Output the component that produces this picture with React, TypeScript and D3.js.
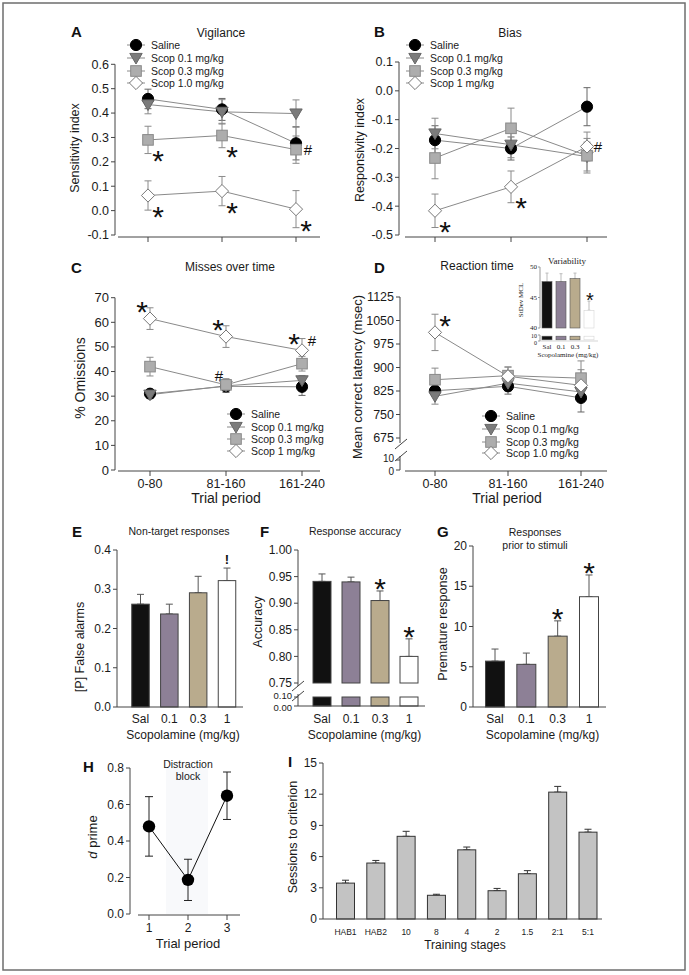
import React from "react"
import * as d3 from "d3"

const FONT = "'Liberation Sans', Arial, Helvetica, sans-serif"
const SERIF = "'Liberation Serif', 'Times New Roman', serif"

// ---------- data ----------
const trialPeriods = ["0-80", "81-160", "161-240"]
const groupsLong = ["Saline", "Scop 0.1 mg/kg", "Scop 0.3 mg/kg", "Scop 1.0 mg/kg"]
const groupsShort = ["Saline", "Scop 0.1 mg/kg", "Scop 0.3 mg/kg", "Scop 1 mg/kg"]
const doses = ["Sal", "0.1", "0.3", "1"]

// A: vigilance, rows = Saline, 0.1, 0.3, 1.0
const vigilanceMean = [
  [0.458, 0.415, 0.276],
  [0.435, 0.405, 0.398],
  [0.29, 0.308, 0.25],
  [0.062, 0.08, 0.006],
]
const vigilanceErr = [
  [0.04, 0.045, 0.068],
  [0.038, 0.05, 0.056],
  [0.056, 0.05, 0.056],
  [0.06, 0.06, 0.076],
]
const vigilanceTicks = [-0.1, 0, 0.1, 0.2, 0.3, 0.4, 0.5, 0.6]
const vigilanceStars = [[2, 0], [2, 1], [3, 0], [3, 1], [3, 2]]
const vigilanceHash = [[2, 2]]

// B: bias
const biasMean = [
  [-0.171, -0.2, -0.055],
  [-0.148, -0.187, -0.228],
  [-0.233, -0.13, -0.225],
  [-0.416, -0.333, -0.193],
]
const biasErr = [
  [0.05, 0.04, 0.066],
  [0.053, 0.045, 0.05],
  [0.072, 0.07, 0.06],
  [0.058, 0.055, 0.05],
]
const biasTicks = [-0.5, -0.4, -0.3, -0.2, -0.1, 0, 0.1]
const biasStars = [[3, 0], [3, 1]]
const biasHash = [[3, 2]]

// C: omissions (%)
const missesMean = [
  [31, 34, 33.8],
  [30.6, 34.2, 36.4],
  [42, 34.6, 43.2],
  [61.5, 54.2, 48.6],
]
const missesErr = [
  [1.5, 2.5, 3.5],
  [1.5, 2.2, 2],
  [3.8, 2.5, 3],
  [4.4, 4.4, 4.8],
]
const missesTicks = [0, 10, 20, 30, 40, 50, 60, 70]
const missesStars = [[3, 0], [3, 1], [3, 2]]
const missesHashHigh = [[3, 2]]
const missesHashLow = [[2, 1]]

// D: reaction time (msec)
const rtMean = [
  [826, 840, 803],
  [808, 850, 822],
  [861, 874, 866],
  [1012, 872, 843],
]
const rtErr = [
  [18, 25, 45],
  [25, 25, 30],
  [37, 27, 55],
  [58, 30, 50],
]
const rtTicks = [675, 750, 825, 900, 975, 1050, 1125]
const rtLowTicks = [0, 10]
const rtStars = [[3, 0]]

// D inset: variability (StDev MCL)
const variabilityMean = [47.6, 47.6, 48.1, 42.9]
const variabilityErr = [1.4, 1.3, 0.9, 1.5]
const variabilityTicks = [40, 45, 50]
const variabilityStars = [3]

// E: false alarms
const falseAlarmMean = [0.262, 0.237, 0.291, 0.322]
const falseAlarmErr = [0.025, 0.025, 0.042, 0.032]
const falseAlarmTicks = [0, 0.1, 0.2, 0.3, 0.4]
const falseAlarmBang = [3]

// F: accuracy
const accuracyMean = [0.941, 0.94, 0.905, 0.8]
const accuracyErr = [0.014, 0.009, 0.018, 0.033]
const accuracyTicks = [0.75, 0.8, 0.85, 0.9, 0.95, 1.0]
const accuracyLowTicks = [0, 0.1]
const accuracyStars = [2, 3]

// G: premature responses
const prematureMean = [5.7, 5.3, 8.8, 13.7]
const prematureErr = [1.5, 1.4, 1.9, 2.7]
const prematureTicks = [0, 5, 10, 15, 20]
const prematureStars = [2, 3]

// H: distraction block d prime
const distractionPeriods = ["1", "2", "3"]
const dPrimeMean = [0.48, 0.187, 0.648]
const dPrimeErr = [0.163, 0.113, 0.13]
const dPrimeTicks = [0, 0.2, 0.4, 0.6, 0.8]

// I: sessions to criterion
const stages = ["HAB1", "HAB2", "10", "8", "4", "2", "1.5", "2:1", "5:1"]
const sessionsMean = [3.45, 5.38, 7.95, 2.28, 6.65, 2.72, 4.35, 12.2, 8.35]
const sessionsErr = [0.28, 0.25, 0.48, 0.1, 0.27, 0.22, 0.3, 0.55, 0.28]
const sessionsTicks = [0, 3, 6, 9, 12, 15]

// ---------- styles ----------
const barColors = ["#111111", "#8d8096", "#b9ab8d", "#ffffff"]
const lineGray = "#8a8a8a"
const axisColor = "#444"
const textColor = "#1a1a1a"

const f1 = (v: number) => v.toFixed(1)
const f2 = (v: number) => v.toFixed(2)
const f0 = (v: number) => String(v)

// ---------- helpers ----------
function Marker({ g, cx, cy }: { g: number; cx: number; cy: number }) {
  if (g === 0) return <circle cx={cx} cy={cy} r={5.6} fill="#000" stroke="#000" />
  if (g === 1)
    return (
      <path
        d={`M${cx - 6.2},${cy - 4.6}L${cx + 6.2},${cy - 4.6}L${cx},${cy + 6}Z`}
        fill="#7b7b7b"
        stroke="#666"
      />
    )
  if (g === 2) return <rect x={cx - 5.3} y={cy - 5.3} width={10.6} height={10.6} fill="#adadad" stroke="#8a8a8a" />
  return (
    <path
      d={`M${cx},${cy - 6.6}L${cx + 6.6},${cy}L${cx},${cy + 6.6}L${cx - 6.6},${cy}Z`}
      fill="#fff"
      stroke="#777"
    />
  )
}

function ErrBar({ x, y1, y2, color, cap = 3.5 }: any) {
  return (
    <g stroke={color} strokeWidth={1}>
      <line x1={x} x2={x} y1={y1} y2={y2} />
      <line x1={x - cap} x2={x + cap} y1={y1} y2={y1} />
      <line x1={x - cap} x2={x + cap} y1={y2} y2={y2} />
    </g>
  )
}

// nudge: small vertical shifts for labels crowded around an axis break
function YAxis({
  x,
  scale,
  ticks,
  fmt,
  fs = 12.5,
  top,
  bottom,
  tick = 4,
  font = FONT,
  color = axisColor,
  gap = 6,
  nudge = {},
}: any) {
  const r = scale.range()
  const y1 = top ?? Math.min(r[0], r[1])
  const y2 = bottom ?? Math.max(r[0], r[1])
  return (
    <g>
      <line x1={x} x2={x} y1={y1} y2={y2} stroke={color} />
      {ticks.map((t: number) => (
        <g key={t}>
          <line x1={x - tick} x2={x} y1={scale(t)} y2={scale(t)} stroke={color} />
          <text
            x={x - gap}
            y={scale(t) + (nudge[t] || 0)}
            dy="0.35em"
            textAnchor="end"
            fontSize={fs}
            fontFamily={font}
            fill={textColor}
          >
            {fmt(t)}
          </text>
        </g>
      ))}
    </g>
  )
}

function Star({ x, y, fs = 30 }: any) {
  return (
    <text x={x} y={y + fs * 0.58} textAnchor="middle" fontSize={fs} fill="#111" fontFamily={FONT}>
      *
    </text>
  )
}

function Hash({ x, y, fs = 15 }: any) {
  return (
    <text x={x} y={y + fs * 0.36} textAnchor="middle" fontSize={fs} fill="#111" fontFamily={FONT}>
      #
    </text>
  )
}

function YLabel({ x, y, text, fs = 13, children }: any) {
  return (
    <text
      transform={`translate(${x},${y}) rotate(-90)`}
      textAnchor="middle"
      dy="0.35em"
      fontSize={fs}
      fill={textColor}
    >
      {children ?? text}
    </text>
  )
}

function PanelLetter({ x, y, t }: any) {
  return (
    <text x={x} y={y} fontSize={15} fontWeight="bold" fill="#111">
      {t}
    </text>
  )
}

function Title({ x, y, t, fs = 12 }: any) {
  return (
    <text x={x} y={y} textAnchor="middle" fontSize={fs} fill={textColor}>
      {t}
    </text>
  )
}

function Legend({ x, ys, names }: any) {
  return (
    <g>
      {names.map((n: string, i: number) => (
        <g key={n}>
          <line x1={x} x2={x + 18} y1={ys[i]} y2={ys[i]} stroke={lineGray} />
          <Marker g={i} cx={x + 9} cy={ys[i]} />
          <text x={x + 24} y={ys[i]} dy="0.35em" fontSize={10.5} fill={textColor}>
            {n}
          </text>
        </g>
      ))}
    </g>
  )
}

function Series({ x, y, means, errs }: any) {
  const line = d3.line<[number, number]>()
  return (
    <g>
      {means.map((row: number[], gi: number) => (
        <path
          key={"l" + gi}
          d={line(row.map((v, i) => [x(i), y(v)] as [number, number])) || ""}
          fill="none"
          stroke={lineGray}
          strokeWidth={1}
        />
      ))}
      {means.map((row: number[], gi: number) =>
        row.map((v, i) => (
          <ErrBar
            key={"e" + gi + i}
            x={x(i)}
            y1={y(v - errs[gi][i])}
            y2={y(v + errs[gi][i])}
            color={gi === 0 ? "#666" : lineGray}
          />
        ))
      )}
      {means.map((row: number[], gi: number) =>
        row.map((v, i) => <Marker key={"m" + gi + i} g={gi} cx={x(i)} cy={y(v)} />)
      )}
    </g>
  )
}

function XAxisLine({ y, x1, x2, ticks, labels, fs = 12.5, labelY }: any) {
  return (
    <g>
      <line x1={x1} x2={x2} y1={y} y2={y} stroke={axisColor} />
      {ticks &&
        ticks.map((t: number, i: number) => <line key={i} x1={t} x2={t} y1={y} y2={y + 5} stroke={axisColor} />)}
      {labels &&
        labels.map((l: string, i: number) => (
          <text key={l} x={ticks[i]} y={labelY} textAnchor="middle" fontSize={fs} fill={textColor}>
            {l}
          </text>
        ))}
    </g>
  )
}

function Bars({ x, y, means, errs, width, base, colors, stroke = "#444", cap = 3.5, errColor = "#555" }: any) {
  return (
    <g>
      {means.map((v: number, i: number) => (
        <g key={i}>
          <ErrBar x={x(i)} y1={y(v)} y2={y(v + errs[i])} color={errColor} cap={cap} />
          <rect
            x={x(i) - width / 2}
            y={y(v)}
            width={width}
            height={base - y(v)}
            fill={colors ? colors[i] : "#c3c3c3"}
            stroke={stroke}
            strokeWidth={1}
          />
        </g>
      ))}
    </g>
  )
}

function Slash({ x, y }: any) {
  return <line x1={x - 6} x2={x + 6} y1={y + 5} y2={y - 5} stroke={axisColor} />
}

// ---------- panels ----------
function PanelA() {
  const x = d3.scalePoint<number>().domain([0, 1, 2]).range([148, 296])
  const y = d3.scaleLinear().domain([-0.1, 0.6]).range([235, 64.3])
  return (
    <g>
      <PanelLetter x={71} y={37} t="A" />
      <Title x={221} y={37} t="Vigilance" />
      <Legend x={127} ys={[45, 58, 71, 83]} names={groupsLong} />
      <YAxis x={115} scale={y} ticks={vigilanceTicks} fmt={f1} />
      <XAxisLine y={237} x1={118} x2={320} ticks={[0, 1, 2].map((i) => x(i))} />
      <YLabel x={75} y={148} text="Sensitivity index" fs={12.5} />
      <Series x={x} y={y} means={vigilanceMean} errs={vigilanceErr} />
      {vigilanceStars.map(([g, i]) => (
        <Star key={g + "-" + i} x={x(i)! + 10} y={y(vigilanceMean[g][i]) + 14} />
      ))}
      {vigilanceHash.map(([g, i]) => (
        <Hash key={g + "-" + i} x={x(i)! + 12} y={y(vigilanceMean[g][i])} />
      ))}
    </g>
  )
}

function PanelB() {
  const x = d3.scalePoint<number>().domain([0, 1, 2]).range([435, 587])
  const y = d3.scaleLinear().domain([-0.5, 0.1]).range([235, 62])
  return (
    <g>
      <PanelLetter x={374} y={37} t="B" />
      <Title x={510} y={37} t="Bias" />
      <Legend x={406} ys={[45, 58, 71, 83]} names={groupsShort} />
      <YAxis x={399} scale={y} ticks={biasTicks} fmt={f1} />
      <XAxisLine y={237} x1={405} x2={607} ticks={[0, 1, 2].map((i) => x(i))} />
      <YLabel x={360} y={150} text="Responsivity index" fs={12.5} />
      <Series x={x} y={y} means={biasMean} errs={biasErr} />
      {biasStars.map(([g, i]) => (
        <Star key={g + "-" + i} x={x(i)! + 10} y={y(biasMean[g][i]) + 14} />
      ))}
      {biasHash.map(([g, i]) => (
        <Hash key={g + "-" + i} x={x(i)! + 11} y={y(biasMean[g][i])} />
      ))}
    </g>
  )
}

function PanelC() {
  const x = d3.scalePoint<number>().domain([0, 1, 2]).range([150, 302])
  const y = d3.scaleLinear().domain([0, 70]).range([470, 297.7])
  return (
    <g>
      <PanelLetter x={71} y={273} t="C" />
      <Title x={230} y={271} t="Misses over time" />
      <YAxis x={115} scale={y} ticks={missesTicks} fmt={f0} fs={13} />
      <XAxisLine
        y={471}
        x1={118}
        x2={320}
        ticks={[0, 1, 2].map((i) => x(i))}
        labels={trialPeriods}
        labelY={488}
      />
      <text x={226} y={503} textAnchor="middle" fontSize={14} fill={textColor}>
        Trial period
      </text>
      <YLabel x={80} y={378} text="% Omissions" fs={14} />
      <Legend x={227} ys={[414, 427, 439, 451]} names={groupsShort} />
      <Series x={x} y={y} means={missesMean} errs={missesErr} />
      {missesStars.map(([g, i]) => (
        <Star key={g + "-" + i} x={x(i)! - 8} y={y(missesMean[g][i]) - 14} />
      ))}
      {missesHashHigh.map(([g, i]) => (
        <Hash key={"h" + g + i} x={x(i)! + 10} y={y(missesMean[g][i]) - 10} />
      ))}
      {missesHashLow.map(([g, i]) => (
        <Hash key={"l" + g + i} x={x(i)! - 7} y={y(missesMean[g][i]) - 9} />
      ))}
    </g>
  )
}

function Inset() {
  const x = d3.scalePoint<number>().domain([0, 1, 2, 3]).range([547, 589])
  const yU = d3.scaleLinear().domain([40, 50]).range([328, 267])
  const yL = d3.scaleLinear().domain([0, 10]).range([341, 335])
  const ax = "#999"
  return (
    <g fontFamily={SERIF}>
      <text x={567} y={264} textAnchor="middle" fontSize={9} fill={textColor}>
        Variability
      </text>
      <YAxis
        x={540}
        scale={yU}
        ticks={variabilityTicks}
        fmt={f0}
        fs={7}
        tick={2}
        gap={3}
        font={SERIF}
        color={ax}
        nudge={{ 40: -0.8 }}
      />
      <YAxis
        x={540}
        scale={yL}
        ticks={rtLowTicks}
        fmt={f0}
        fs={6}
        tick={2}
        gap={3}
        font={SERIF}
        color={ax}
        nudge={{ 10: 0.8, 0: 2.2 }}
      />
      <line x1={540} x2={598} y1={341} y2={341} stroke="#bbb" strokeWidth={0.6} />
      {variabilityMean.map((v, i) => (
        <g key={i}>
          <ErrBar x={x(i)} y1={yU(v)} y2={yU(v + variabilityErr[i])} color="#bbb" cap={1.5} />
          <rect
            x={x(i)! - 5}
            y={yU(v)}
            width={10}
            height={328 - yU(v)}
            fill={barColors[i]}
            stroke={i === 3 ? "#d5d5d5" : "#555"}
            strokeWidth={0.6}
          />
          <rect
            x={x(i)! - 5}
            y={yL(8)}
            width={10}
            height={yL(2) - yL(8)}
            fill={barColors[i]}
            stroke={i === 3 ? "#d5d5d5" : "#555"}
            strokeWidth={0.6}
          />
          <text x={x(i)} y={348.5} textAnchor="middle" fontSize={7} fill={textColor}>
            {doses[i]}
          </text>
        </g>
      ))}
      <text x={568} y={356.5} textAnchor="middle" fontSize={7} fill={textColor}>
        Scopolamine (mg/kg)
      </text>
      <text transform="translate(523,300) rotate(-90)" textAnchor="middle" fontSize={7} fill={textColor}>
        StDev MCL
      </text>
      {variabilityStars.map((i) => (
        <Star key={i} x={x(i)! + 1} y={yU(variabilityMean[i] + variabilityErr[i]) - 6} fs={20} />
      ))}
    </g>
  )
}

function PanelD() {
  const x = d3.scalePoint<number>().domain([0, 1, 2]).range([435, 581])
  const y = d3.scaleLinear().domain([675, 1125]).range([438, 297])
  const yL = d3.scaleLinear().domain([0, 10]).range([470, 460])
  return (
    <g>
      <PanelLetter x={374} y={273} t="D" />
      <Title x={477} y={270} t="Reaction time" />
      <YAxis x={400} scale={y} ticks={rtTicks} fmt={f0} bottom={443} />
      <YAxis x={400} scale={yL} ticks={rtLowTicks} fmt={f0} fs={10} top={456} nudge={{ 10: -1.5, 0: 1.5 }} />
      <Slash x={401} y={444} />
      <Slash x={401} y={456} />
      <XAxisLine
        y={471}
        x1={405}
        x2={607}
        ticks={[0, 1, 2].map((i) => x(i))}
        labels={trialPeriods}
        labelY={488}
      />
      <text x={507} y={503} textAnchor="middle" fontSize={14} fill={textColor}>
        Trial period
      </text>
      <YLabel x={357} y={377} text="Mean correct latency (msec)" fs={13} />
      <Legend x={482} ys={[416, 429, 442, 453]} names={groupsLong} />
      <Series x={x} y={y} means={rtMean} errs={rtErr} />
      {rtStars.map(([g, i]) => (
        <Star key={g + "-" + i} x={x(i)! + 10} y={y(rtMean[g][i]) - 14} />
      ))}
      <Inset />
    </g>
  )
}

function DoseAxis({ x, y, x1, x2 }: any) {
  return (
    <g>
      <line x1={x1} x2={x2} y1={y} y2={y} stroke={axisColor} />
      {doses.map((d, i) => (
        <text key={d} x={x(i)} y={723} textAnchor="middle" fontSize={12} fill={textColor}>
          {d}
        </text>
      ))}
      <text x={(x1 + x2) / 2 + 3} y={739} textAnchor="middle" fontSize={12} fill={textColor}>
        Scopolamine (mg/kg)
      </text>
    </g>
  )
}

function PanelE() {
  const x = d3.scalePoint<number>().domain([0, 1, 2, 3]).range([140.5, 227])
  const y = d3.scaleLinear().domain([0, 0.4]).range([707, 550])
  return (
    <g>
      <PanelLetter x={72} y={537} t="E" />
      <Title x={179} y={535} t="Non-target responses" fs={10.5} />
      <YAxis x={117} scale={y} ticks={falseAlarmTicks} fmt={f1} fs={12} />
      <YLabel x={80} y={647} text="[P] False alarms" fs={12.5} />
      <Bars x={x} y={y} means={falseAlarmMean} errs={falseAlarmErr} width={17.5} base={707} colors={barColors} />
      <DoseAxis x={x} y={707} x1={117} x2={243} />
      {falseAlarmBang.map((i) => (
        <text
          key={i}
          x={x(i)}
          y={y(falseAlarmMean[i] + falseAlarmErr[i]) - 4}
          textAnchor="middle"
          fontSize={13}
          fontWeight="bold"
          fill="#111"
        >
          !
        </text>
      ))}
    </g>
  )
}

function PanelF() {
  const x = d3.scalePoint<number>().domain([0, 1, 2, 3]).range([322, 409])
  const y = d3.scaleLinear().domain([0.75, 1.0]).range([683, 550])
  const yL = d3.scaleLinear().domain([0, 0.1]).range([706, 697])
  return (
    <g>
      <PanelLetter x={260} y={537} t="F" />
      <Title x={355} y={535} t="Response accuracy" fs={10.5} />
      <YAxis x={298} scale={y} ticks={accuracyTicks} fmt={f2} fs={12} bottom={686} />
      <YAxis
        x={298}
        scale={yL}
        ticks={accuracyLowTicks}
        fmt={f2}
        fs={9.5}
        top={694}
        nudge={{ 0.1: -1.5, 0: 1.5 }}
      />
      <Slash x={298} y={686} />
      <Slash x={298} y={696} />
      <YLabel x={258} y={622} text="Accuracy" fs={12.5} />
      <Bars x={x} y={y} means={accuracyMean} errs={accuracyErr} width={18} base={683} colors={barColors} />
      {accuracyMean.map((_, i) => (
        <rect
          key={i}
          x={x(i)! - 9}
          y={yL(0.1)}
          width={18}
          height={yL(0) - yL(0.1)}
          fill={barColors[i]}
          stroke="#444"
        />
      ))}
      <DoseAxis x={x} y={706} x1={298} x2={425} />
      {accuracyStars.map((i) => (
        <Star key={i} x={x(i)} y={y(accuracyMean[i] + accuracyErr[i]) - 9} />
      ))}
    </g>
  )
}

function PanelG() {
  const x = d3.scalePoint<number>().domain([0, 1, 2, 3]).range([495, 589])
  const y = d3.scaleLinear().domain([0, 20]).range([707, 546])
  return (
    <g>
      <PanelLetter x={437} y={537} t="G" />
      <Title x={535} y={536} t="Responses" fs={10.5} />
      <Title x={535} y={549} t="prior to stimuli" fs={10.5} />
      <YAxis x={473} scale={y} ticks={prematureTicks} fmt={f0} fs={12} />
      <YLabel x={443} y={624} text="Premature response" fs={12.5} />
      <Bars x={x} y={y} means={prematureMean} errs={prematureErr} width={19} base={707} colors={barColors} />
      <DoseAxis x={x} y={707} x1={473} x2={606} />
      {prematureStars.map((i) => (
        <Star key={i} x={x(i)} y={y(prematureMean[i] + prematureErr[i]) - 9} />
      ))}
    </g>
  )
}

function PanelH() {
  const x = d3.scalePoint<number>().domain([0, 1, 2]).range([149, 227])
  const y = d3.scaleLinear().domain([0, 0.8]).range([914, 768])
  const line = d3.line<number>().x((_, i) => x(i)!).y((d) => y(d))
  return (
    <g>
      <rect x={166} y={768} width={42} height={146} fill="#f8f9fb" />
      <PanelLetter x={83} y={772} t="H" />
      <Title x={188} y={768} t="Distraction" fs={10.5} />
      <Title x={188} y={780} t="block" fs={10.5} />
      <YAxis x={130} scale={y} ticks={dPrimeTicks} fmt={f1} fs={12} />
      <XAxisLine
        y={915}
        x1={138}
        x2={240}
        ticks={[0, 1, 2].map((i) => x(i))}
        labels={distractionPeriods}
        labelY={932}
        fs={12}
      />
      <text x={188} y={948} textAnchor="middle" fontSize={13} fill={textColor}>
        Trial period
      </text>
      <YLabel x={92} y={837} fs={13}>
        <tspan fontStyle="italic">d</tspan> prime
      </YLabel>
      <path d={line(dPrimeMean) || ""} fill="none" stroke="#111" strokeWidth={1} />
      {dPrimeMean.map((v, i) => (
        <g key={i}>
          <ErrBar x={x(i)} y1={y(v - dPrimeErr[i])} y2={y(v + dPrimeErr[i])} color="#222" cap={4} />
          <circle cx={x(i)} cy={y(v)} r={6.2} fill="#000" />
        </g>
      ))}
    </g>
  )
}

function PanelI() {
  const x = d3.scalePoint<string>().domain(stages).range([345.5, 588])
  const y = d3.scaleLinear().domain([0, 15]).range([919, 763])
  const xi = (i: number) => x(stages[i])
  return (
    <g>
      <PanelLetter x={288} y={767} t="I" />
      <YAxis x={323} scale={y} ticks={sessionsTicks} fmt={f0} fs={12} />
      <YLabel x={293} y={837} text="Sessions to criterion" fs={12.5} />
      <Bars
        x={xi}
        y={y}
        means={sessionsMean}
        errs={sessionsErr}
        width={18}
        base={919}
        stroke="#333"
        errColor="#333"
      />
      <line x1={323} x2={602} y1={919} y2={919} stroke={axisColor} />
      {stages.map((s, i) => (
        <text key={s} x={xi(i)} y={935} textAnchor="middle" fontSize={8.5} fill={textColor}>
          {s}
        </text>
      ))}
      <text x={465} y={949} textAnchor="middle" fontSize={12} fill={textColor}>
        Training stages
      </text>
    </g>
  )
}

export default function App() {
  return (
    <svg
      width={689}
      height={975}
      style={{ position: "absolute", left: 0, top: 0, background: "#fff" }}
      fontFamily={FONT}
    >
      <rect x={0} y={0} width={689} height={975} fill="#fff" />
      <rect x={3} y={3} width={682} height={967} fill="none" stroke="#6e6e6e" strokeWidth={1.5} />
      <PanelA />
      <PanelB />
      <PanelC />
      <PanelD />
      <PanelE />
      <PanelF />
      <PanelG />
      <PanelH />
      <PanelI />
    </svg>
  )
}
